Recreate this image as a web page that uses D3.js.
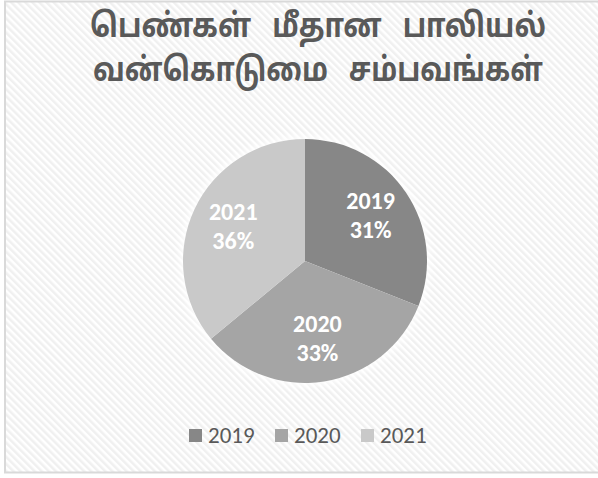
<!DOCTYPE html>
<html>
<head>
<meta charset="utf-8">
<script src="https://cdn.jsdelivr.net/npm/d3@7"></script>
<style>
  body { margin: 0; background: #fff; }
  svg { display: block; }
</style>
</head>
<body>
<svg width="598" height="478"></svg>
<script>
var titleLines = ["பெண்கள் மீதான பாலியல்", "வன்கொடுமை சம்பவங்கள்"];
var years = ["2019", "2020", "2021"];
var shares = [31, 33, 36];
var colors = ["#878787", "#a5a5a5", "#c9c9c9"];

var svg = d3.select("svg"),
    width = +svg.attr("width"),
    height = +svg.attr("height");

// diagonal hatch background
var defs = svg.append("defs");
var pat = defs.append("pattern")
    .attr("id", "hatch")
    .attr("patternUnits", "userSpaceOnUse")
    .attr("width", 5).attr("height", 5)
    .attr("patternTransform", "rotate(-45)");
pat.append("rect").attr("width", 5).attr("height", 5).attr("fill", "#ffffff");
pat.append("rect").attr("width", 2.5).attr("height", 5).attr("fill", "#f0f0f0");

var blur = defs.append("filter").attr("id", "glow")
    .attr("x", "-20%").attr("y", "-20%").attr("width", "140%").attr("height", "140%");
blur.append("feGaussianBlur").attr("stdDeviation", 4);

svg.append("rect")
    .attr("x", 5).attr("y", 1.5)
    .attr("width", width + 10).attr("height", 471)
    .attr("fill", "url(#hatch)")
    .attr("stroke", "#d9d9d9").attr("stroke-width", 2);

// title: squeeze each line to the width it has in the picture
var titleWidths = [456, 450];
svg.append("g").selectAll("text")
  .data(titleLines)
  .enter().append("text")
    .attr("text-anchor", "middle")
    .attr("font-family", "'Noto Sans Tamil', 'Lohit Tamil', Latha, sans-serif")
    .attr("font-weight", "bold")
    .attr("font-size", 33)
    .attr("word-spacing", 16)
    .attr("fill", "#595959")
    .text(function(d) { return d; })
    .each(function(d, i) {
      var w = this.getComputedTextLength();
      var sx = Math.min(1, titleWidths[i] / w);
      d3.select(this).attr("transform",
        "translate(318," + (37 + i * 44) + ") scale(" + sx + ",1)");
    });

var cx = 305, cy = 261, r = 122;

var pie = d3.pie().sort(null).value(function(d) { return d; });
var arcs = pie(shares);
var arc = d3.arc().innerRadius(0).outerRadius(r);
var color = d3.scaleOrdinal().domain(years).range(colors);

var g = svg.append("g").attr("transform", "translate(" + cx + "," + cy + ")");

g.append("circle").attr("r", r + 2).attr("fill", "#ffffff").attr("filter", "url(#glow)");

g.selectAll("path.slice")
  .data(arcs)
  .enter().append("path")
    .attr("class", "slice")
    .attr("d", arc)
    .attr("fill", function(d, i) { return color(years[i]); });

var labelArc = d3.arc().innerRadius(r * 0.65).outerRadius(r * 0.65);

var labels = g.selectAll("text.lbl")
  .data(arcs)
  .enter().append("text")
    .attr("class", "lbl")
    .attr("transform", function(d) { return "translate(" + labelArc.centroid(d) + ")"; })
    .attr("text-anchor", "middle")
    .attr("font-family", "Carlito, 'Open Sans', sans-serif")
    .attr("font-weight", "bold")
    .attr("font-size", 24)
    .attr("fill", "#ffffff");
labels.append("tspan").attr("x", 0).attr("y", -7).text(function(d, i) { return years[i]; });
labels.append("tspan").attr("x", 0).attr("y", 22).text(function(d) { return d.data + "%"; });

// legend
var legX = d3.scalePoint().domain(years).range([189, 361]);
var leg = svg.append("g").selectAll("g")
  .data(years)
  .enter().append("g")
    .attr("transform", function(d) { return "translate(" + legX(d) + ",429)"; });
leg.append("rect").attr("width", 13).attr("height", 13).attr("fill", function(d) { return color(d); });
leg.append("text")
    .attr("x", 19).attr("y", 14)
    .attr("font-family", "Carlito, 'Open Sans', sans-serif")
    .attr("font-size", 23)
    .attr("fill", "#595959")
    .text(function(d) { return d; });
</script>
</body>
</html>
